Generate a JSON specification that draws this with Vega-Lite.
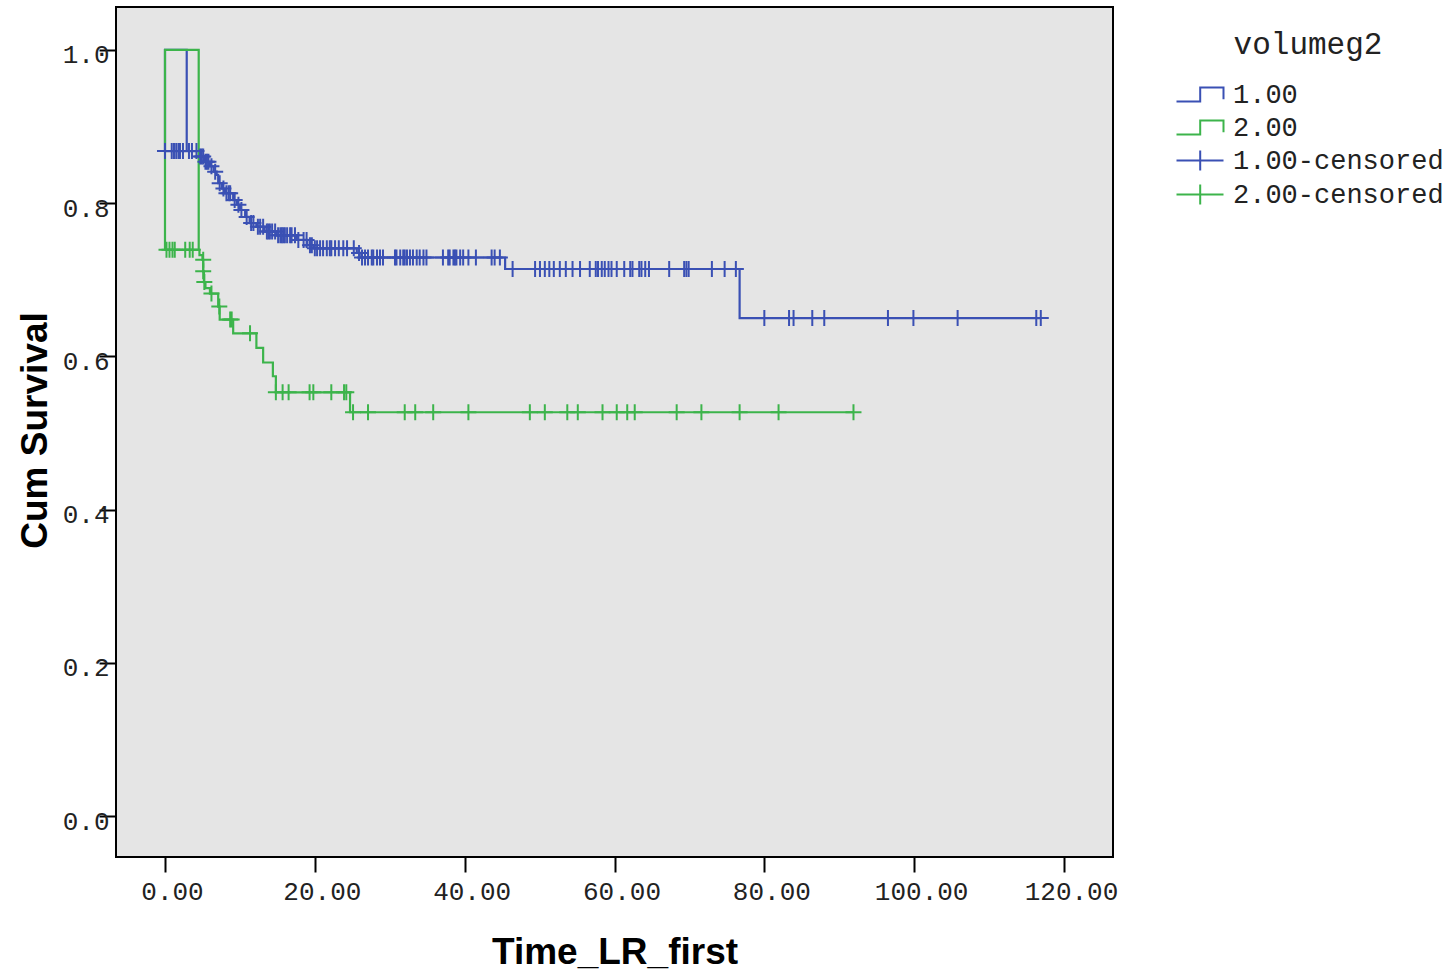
{
  "$schema": "https://vega.github.io/schema/vega-lite/v6.json",
  "width": 997,
  "height": 850,
  "autosize": {"type": "none"},
  "padding": {"left": 116, "top": 7, "right": 337, "bottom": 114},
  "background": "white",
  "config": {
    "view": {"stroke": "black", "strokeWidth": 2, "fill": "#e5e5e5"}
  },
  "datasets": {
    "curves": [
      {"group": "1.00", "seg": "spike", "ord": 1, "t": 0, "s": 0.868},
      {"group": "1.00", "seg": "spike", "ord": 2, "t": 0, "s": 1.0},
      {"group": "1.00", "seg": "spike", "ord": 3, "t": 2.9, "s": 1.0},
      {"group": "1.00", "seg": "spike", "ord": 4, "t": 2.9, "s": 0.868},
      {"group": "1.00", "seg": "main", "ord": 1, "t": 0, "s": 0.868},
      {"group": "1.00", "seg": "main", "ord": 2, "t": 4.6, "s": 0.861},
      {"group": "1.00", "seg": "main", "ord": 3, "t": 5.3, "s": 0.854},
      {"group": "1.00", "seg": "main", "ord": 4, "t": 6.0, "s": 0.848},
      {"group": "1.00", "seg": "main", "ord": 5, "t": 6.5, "s": 0.841},
      {"group": "1.00", "seg": "main", "ord": 6, "t": 6.9, "s": 0.837},
      {"group": "1.00", "seg": "main", "ord": 7, "t": 7.1, "s": 0.826},
      {"group": "1.00", "seg": "main", "ord": 8, "t": 7.6, "s": 0.819},
      {"group": "1.00", "seg": "main", "ord": 9, "t": 8.0, "s": 0.813},
      {"group": "1.00", "seg": "main", "ord": 10, "t": 9.1, "s": 0.804},
      {"group": "1.00", "seg": "main", "ord": 11, "t": 9.6, "s": 0.798},
      {"group": "1.00", "seg": "main", "ord": 12, "t": 10.0, "s": 0.791},
      {"group": "1.00", "seg": "main", "ord": 13, "t": 10.7, "s": 0.782},
      {"group": "1.00", "seg": "main", "ord": 14, "t": 11.3, "s": 0.774},
      {"group": "1.00", "seg": "main", "ord": 15, "t": 12.2, "s": 0.769},
      {"group": "1.00", "seg": "main", "ord": 16, "t": 13.3, "s": 0.763},
      {"group": "1.00", "seg": "main", "ord": 17, "t": 14.9, "s": 0.758},
      {"group": "1.00", "seg": "main", "ord": 18, "t": 17.6, "s": 0.752},
      {"group": "1.00", "seg": "main", "ord": 19, "t": 19.0, "s": 0.745},
      {"group": "1.00", "seg": "main", "ord": 20, "t": 19.9, "s": 0.741},
      {"group": "1.00", "seg": "main", "ord": 21, "t": 25.6, "s": 0.735},
      {"group": "1.00", "seg": "main", "ord": 22, "t": 26.2, "s": 0.729},
      {"group": "1.00", "seg": "main", "ord": 23, "t": 45.4, "s": 0.714},
      {"group": "1.00", "seg": "main", "ord": 24, "t": 76.7, "s": 0.650},
      {"group": "1.00", "seg": "main", "ord": 25, "t": 116.9, "s": 0.650},
      {"group": "2.00", "seg": "spike", "ord": 1, "t": 0, "s": 0.739},
      {"group": "2.00", "seg": "spike", "ord": 2, "t": 0, "s": 1.0},
      {"group": "2.00", "seg": "spike", "ord": 3, "t": 4.5, "s": 1.0},
      {"group": "2.00", "seg": "spike", "ord": 4, "t": 4.5, "s": 0.739},
      {"group": "2.00", "seg": "main", "ord": 1, "t": 0, "s": 0.739},
      {"group": "2.00", "seg": "main", "ord": 2, "t": 4.6, "s": 0.732},
      {"group": "2.00", "seg": "main", "ord": 3, "t": 5.0, "s": 0.726},
      {"group": "2.00", "seg": "main", "ord": 4, "t": 5.1, "s": 0.711},
      {"group": "2.00", "seg": "main", "ord": 5, "t": 5.2, "s": 0.697},
      {"group": "2.00", "seg": "main", "ord": 6, "t": 5.4, "s": 0.689},
      {"group": "2.00", "seg": "main", "ord": 7, "t": 6.0, "s": 0.682},
      {"group": "2.00", "seg": "main", "ord": 8, "t": 7.1, "s": 0.665},
      {"group": "2.00", "seg": "main", "ord": 9, "t": 7.3, "s": 0.648},
      {"group": "2.00", "seg": "main", "ord": 10, "t": 9.1, "s": 0.630},
      {"group": "2.00", "seg": "main", "ord": 11, "t": 12.2, "s": 0.611},
      {"group": "2.00", "seg": "main", "ord": 12, "t": 13.1, "s": 0.592},
      {"group": "2.00", "seg": "main", "ord": 13, "t": 14.4, "s": 0.574},
      {"group": "2.00", "seg": "main", "ord": 14, "t": 14.8, "s": 0.553},
      {"group": "2.00", "seg": "main", "ord": 15, "t": 24.7, "s": 0.527},
      {"group": "2.00", "seg": "main", "ord": 16, "t": 91.9, "s": 0.527}
    ],
    "censored": [
      {"group": "1.00-censored", "t": 0.0, "s": 0.868},
      {"group": "1.00-censored", "t": 0.9, "s": 0.868},
      {"group": "1.00-censored", "t": 1.2, "s": 0.868},
      {"group": "1.00-censored", "t": 1.5, "s": 0.868},
      {"group": "1.00-censored", "t": 1.8, "s": 0.868},
      {"group": "1.00-censored", "t": 2.0, "s": 0.868},
      {"group": "1.00-censored", "t": 2.4, "s": 0.868},
      {"group": "1.00-censored", "t": 3.2, "s": 0.868},
      {"group": "1.00-censored", "t": 3.6, "s": 0.868},
      {"group": "1.00-censored", "t": 4.2, "s": 0.868},
      {"group": "1.00-censored", "t": 4.7, "s": 0.861},
      {"group": "1.00-censored", "t": 4.9, "s": 0.861},
      {"group": "1.00-censored", "t": 5.1, "s": 0.861},
      {"group": "1.00-censored", "t": 5.4, "s": 0.854},
      {"group": "1.00-censored", "t": 5.6, "s": 0.854},
      {"group": "1.00-censored", "t": 5.8, "s": 0.854},
      {"group": "1.00-censored", "t": 6.2, "s": 0.848},
      {"group": "1.00-censored", "t": 6.7, "s": 0.841},
      {"group": "1.00-censored", "t": 7.3, "s": 0.826},
      {"group": "1.00-censored", "t": 7.8, "s": 0.819},
      {"group": "1.00-censored", "t": 8.2, "s": 0.813},
      {"group": "1.00-censored", "t": 8.5, "s": 0.813},
      {"group": "1.00-censored", "t": 8.7, "s": 0.813},
      {"group": "1.00-censored", "t": 9.3, "s": 0.804},
      {"group": "1.00-censored", "t": 9.8, "s": 0.798},
      {"group": "1.00-censored", "t": 10.2, "s": 0.791},
      {"group": "1.00-censored", "t": 10.9, "s": 0.782},
      {"group": "1.00-censored", "t": 11.5, "s": 0.774},
      {"group": "1.00-censored", "t": 11.8, "s": 0.774},
      {"group": "1.00-censored", "t": 12.4, "s": 0.769},
      {"group": "1.00-censored", "t": 12.7, "s": 0.769},
      {"group": "1.00-censored", "t": 13.1, "s": 0.769},
      {"group": "1.00-censored", "t": 13.6, "s": 0.763},
      {"group": "1.00-censored", "t": 13.8, "s": 0.763},
      {"group": "1.00-censored", "t": 14.0, "s": 0.763},
      {"group": "1.00-censored", "t": 14.3, "s": 0.763},
      {"group": "1.00-censored", "t": 14.7, "s": 0.763},
      {"group": "1.00-censored", "t": 15.1, "s": 0.758},
      {"group": "1.00-censored", "t": 15.4, "s": 0.758},
      {"group": "1.00-censored", "t": 15.6, "s": 0.758},
      {"group": "1.00-censored", "t": 15.8, "s": 0.758},
      {"group": "1.00-censored", "t": 16.0, "s": 0.758},
      {"group": "1.00-censored", "t": 16.3, "s": 0.758},
      {"group": "1.00-censored", "t": 16.7, "s": 0.758},
      {"group": "1.00-censored", "t": 16.9, "s": 0.758},
      {"group": "1.00-censored", "t": 17.35, "s": 0.758},
      {"group": "1.00-censored", "t": 17.8, "s": 0.752},
      {"group": "1.00-censored", "t": 18.5, "s": 0.752},
      {"group": "1.00-censored", "t": 18.9, "s": 0.752},
      {"group": "1.00-censored", "t": 19.35, "s": 0.745},
      {"group": "1.00-censored", "t": 19.6, "s": 0.745},
      {"group": "1.00-censored", "t": 20.0, "s": 0.741},
      {"group": "1.00-censored", "t": 20.3, "s": 0.741},
      {"group": "1.00-censored", "t": 20.7, "s": 0.741},
      {"group": "1.00-censored", "t": 21.1, "s": 0.741},
      {"group": "1.00-censored", "t": 21.6, "s": 0.741},
      {"group": "1.00-censored", "t": 22.0, "s": 0.741},
      {"group": "1.00-censored", "t": 22.2, "s": 0.741},
      {"group": "1.00-censored", "t": 22.7, "s": 0.741},
      {"group": "1.00-censored", "t": 23.2, "s": 0.741},
      {"group": "1.00-censored", "t": 23.8, "s": 0.741},
      {"group": "1.00-censored", "t": 24.3, "s": 0.741},
      {"group": "1.00-censored", "t": 25.2, "s": 0.741},
      {"group": "1.00-censored", "t": 25.9, "s": 0.735},
      {"group": "1.00-censored", "t": 26.3, "s": 0.729},
      {"group": "1.00-censored", "t": 26.7, "s": 0.729},
      {"group": "1.00-censored", "t": 27.1, "s": 0.729},
      {"group": "1.00-censored", "t": 27.6, "s": 0.729},
      {"group": "1.00-censored", "t": 27.8, "s": 0.729},
      {"group": "1.00-censored", "t": 28.3, "s": 0.729},
      {"group": "1.00-censored", "t": 28.7, "s": 0.729},
      {"group": "1.00-censored", "t": 29.1, "s": 0.729},
      {"group": "1.00-censored", "t": 30.7, "s": 0.729},
      {"group": "1.00-censored", "t": 30.9, "s": 0.729},
      {"group": "1.00-censored", "t": 31.4, "s": 0.729},
      {"group": "1.00-censored", "t": 31.8, "s": 0.729},
      {"group": "1.00-censored", "t": 32.0, "s": 0.729},
      {"group": "1.00-censored", "t": 32.3, "s": 0.729},
      {"group": "1.00-censored", "t": 32.7, "s": 0.729},
      {"group": "1.00-censored", "t": 33.1, "s": 0.729},
      {"group": "1.00-censored", "t": 33.6, "s": 0.729},
      {"group": "1.00-censored", "t": 34.0, "s": 0.729},
      {"group": "1.00-censored", "t": 34.5, "s": 0.729},
      {"group": "1.00-censored", "t": 34.9, "s": 0.729},
      {"group": "1.00-censored", "t": 37.1, "s": 0.729},
      {"group": "1.00-censored", "t": 37.8, "s": 0.729},
      {"group": "1.00-censored", "t": 38.0, "s": 0.729},
      {"group": "1.00-censored", "t": 38.5, "s": 0.729},
      {"group": "1.00-censored", "t": 38.7, "s": 0.729},
      {"group": "1.00-censored", "t": 38.9, "s": 0.729},
      {"group": "1.00-censored", "t": 39.4, "s": 0.729},
      {"group": "1.00-censored", "t": 39.8, "s": 0.729},
      {"group": "1.00-censored", "t": 40.5, "s": 0.729},
      {"group": "1.00-censored", "t": 41.5, "s": 0.729},
      {"group": "1.00-censored", "t": 43.6, "s": 0.729},
      {"group": "1.00-censored", "t": 44.0, "s": 0.729},
      {"group": "1.00-censored", "t": 44.7, "s": 0.729},
      {"group": "1.00-censored", "t": 46.4, "s": 0.714},
      {"group": "1.00-censored", "t": 49.4, "s": 0.714},
      {"group": "1.00-censored", "t": 50.05, "s": 0.714},
      {"group": "1.00-censored", "t": 50.7, "s": 0.714},
      {"group": "1.00-censored", "t": 51.3, "s": 0.714},
      {"group": "1.00-censored", "t": 51.9, "s": 0.714},
      {"group": "1.00-censored", "t": 52.7, "s": 0.714},
      {"group": "1.00-censored", "t": 53.5, "s": 0.714},
      {"group": "1.00-censored", "t": 54.4, "s": 0.714},
      {"group": "1.00-censored", "t": 55.4, "s": 0.714},
      {"group": "1.00-censored", "t": 56.7, "s": 0.714},
      {"group": "1.00-censored", "t": 57.5, "s": 0.714},
      {"group": "1.00-censored", "t": 57.8, "s": 0.714},
      {"group": "1.00-censored", "t": 58.3, "s": 0.714},
      {"group": "1.00-censored", "t": 58.7, "s": 0.714},
      {"group": "1.00-censored", "t": 59.2, "s": 0.714},
      {"group": "1.00-censored", "t": 59.6, "s": 0.714},
      {"group": "1.00-censored", "t": 60.3, "s": 0.714},
      {"group": "1.00-censored", "t": 61.3, "s": 0.714},
      {"group": "1.00-censored", "t": 62.1, "s": 0.714},
      {"group": "1.00-censored", "t": 62.4, "s": 0.714},
      {"group": "1.00-censored", "t": 63.3, "s": 0.714},
      {"group": "1.00-censored", "t": 63.6, "s": 0.714},
      {"group": "1.00-censored", "t": 64.1, "s": 0.714},
      {"group": "1.00-censored", "t": 64.6, "s": 0.714},
      {"group": "1.00-censored", "t": 67.3, "s": 0.714},
      {"group": "1.00-censored", "t": 69.3, "s": 0.714},
      {"group": "1.00-censored", "t": 69.6, "s": 0.714},
      {"group": "1.00-censored", "t": 69.9, "s": 0.714},
      {"group": "1.00-censored", "t": 73.0, "s": 0.714},
      {"group": "1.00-censored", "t": 74.7, "s": 0.714},
      {"group": "1.00-censored", "t": 76.2, "s": 0.714},
      {"group": "1.00-censored", "t": 80.0, "s": 0.650},
      {"group": "1.00-censored", "t": 83.3, "s": 0.650},
      {"group": "1.00-censored", "t": 83.9, "s": 0.650},
      {"group": "1.00-censored", "t": 86.4, "s": 0.650},
      {"group": "1.00-censored", "t": 88.0, "s": 0.650},
      {"group": "1.00-censored", "t": 96.5, "s": 0.650},
      {"group": "1.00-censored", "t": 99.9, "s": 0.650},
      {"group": "1.00-censored", "t": 105.8, "s": 0.650},
      {"group": "1.00-censored", "t": 116.3, "s": 0.650},
      {"group": "1.00-censored", "t": 116.9, "s": 0.650},
      {"group": "2.00-censored", "t": 0.2, "s": 0.739},
      {"group": "2.00-censored", "t": 0.6, "s": 0.739},
      {"group": "2.00-censored", "t": 1.0, "s": 0.739},
      {"group": "2.00-censored", "t": 1.3, "s": 0.739},
      {"group": "2.00-censored", "t": 2.7, "s": 0.739},
      {"group": "2.00-censored", "t": 3.3, "s": 0.739},
      {"group": "2.00-censored", "t": 3.7, "s": 0.739},
      {"group": "2.00-censored", "t": 5.1, "s": 0.726},
      {"group": "2.00-censored", "t": 5.1, "s": 0.711},
      {"group": "2.00-censored", "t": 5.25, "s": 0.697},
      {"group": "2.00-censored", "t": 6.2, "s": 0.682},
      {"group": "2.00-censored", "t": 7.25, "s": 0.665},
      {"group": "2.00-censored", "t": 8.7, "s": 0.648},
      {"group": "2.00-censored", "t": 8.9, "s": 0.648},
      {"group": "2.00-censored", "t": 11.35, "s": 0.630},
      {"group": "2.00-censored", "t": 14.8, "s": 0.553},
      {"group": "2.00-censored", "t": 15.7, "s": 0.553},
      {"group": "2.00-censored", "t": 16.5, "s": 0.553},
      {"group": "2.00-censored", "t": 19.3, "s": 0.553},
      {"group": "2.00-censored", "t": 19.8, "s": 0.553},
      {"group": "2.00-censored", "t": 22.2, "s": 0.553},
      {"group": "2.00-censored", "t": 23.9, "s": 0.553},
      {"group": "2.00-censored", "t": 24.2, "s": 0.553},
      {"group": "2.00-censored", "t": 25.1, "s": 0.527},
      {"group": "2.00-censored", "t": 27.1, "s": 0.527},
      {"group": "2.00-censored", "t": 32.0, "s": 0.527},
      {"group": "2.00-censored", "t": 33.4, "s": 0.527},
      {"group": "2.00-censored", "t": 35.8, "s": 0.527},
      {"group": "2.00-censored", "t": 40.5, "s": 0.527},
      {"group": "2.00-censored", "t": 48.7, "s": 0.527},
      {"group": "2.00-censored", "t": 50.7, "s": 0.527},
      {"group": "2.00-censored", "t": 53.7, "s": 0.527},
      {"group": "2.00-censored", "t": 55.1, "s": 0.527},
      {"group": "2.00-censored", "t": 58.4, "s": 0.527},
      {"group": "2.00-censored", "t": 60.3, "s": 0.527},
      {"group": "2.00-censored", "t": 61.7, "s": 0.527},
      {"group": "2.00-censored", "t": 62.7, "s": 0.527},
      {"group": "2.00-censored", "t": 68.3, "s": 0.527},
      {"group": "2.00-censored", "t": 71.6, "s": 0.527},
      {"group": "2.00-censored", "t": 76.7, "s": 0.527},
      {"group": "2.00-censored", "t": 81.9, "s": 0.527},
      {"group": "2.00-censored", "t": 91.9, "s": 0.527}
    ]
  },
  "encoding": {
    "x": {
      "field": "t", "type": "quantitative",
      "scale": {"domain": [-6.54, 126.54], "nice": false, "zero": false},
      "axis": {
        "title": "Time_LR_first",
        "values": [0, 20, 40, 60, 80, 100, 120],
        "format": ".2f",
        "grid": false, "domain": false,
        "tickSize": 15, "tickWidth": 2, "tickColor": "black",
        "labelFont": "Liberation Mono", "labelFontSize": 26, "labelColor": "#222",
        "labelPadding": 6, "labelOffset": 7, "labelFlush": false, "labelOverlap": false,
        "titleFont": "Liberation Sans", "titleFontSize": 37, "titleFontWeight": "bold", "titleColor": "black",
        "titleBaseline": "alphabetic", "titleY": 106
      }
    },
    "y": {
      "field": "s", "type": "quantitative",
      "scale": {"domain": [-0.0535, 1.056], "nice": false, "zero": false},
      "axis": {
        "title": "Cum Survival",
        "values": [0, 0.2, 0.4, 0.6, 0.8, 1.0],
        "format": ".1f",
        "grid": false, "domain": false,
        "tickSize": 17, "tickWidth": 2, "tickColor": "black",
        "labelFont": "Liberation Mono", "labelFontSize": 26, "labelColor": "#222",
        "labelPadding": -10, "labelOffset": 5, "labelFlush": false, "labelOverlap": false,
        "titleFont": "Liberation Sans", "titleFontSize": 37, "titleFontWeight": "bold", "titleColor": "black",
        "titleBaseline": "alphabetic", "titleX": -70, "titleY": 423, "titleAngle": 270
      }
    },
    "color": {
      "field": "group", "type": "nominal",
      "scale": {
        "domain": ["1.00", "2.00", "1.00-censored", "2.00-censored"],
        "range": ["#3a50b4", "#3cb44b", "#3a50b4", "#3cb44b"]
      },
      "legend": {
        "title": "volumeg2",
        "orient": "none", "legendX": 1057, "legendY": 23,
        "padding": 0,
        "titleFont": "Liberation Mono", "titleFontSize": 31, "titleFontWeight": "normal", "titleColor": "#222",
        "titleAnchor": "middle", "titlePadding": 20,
        "labelFont": "Liberation Mono", "labelFontSize": 27, "labelColor": "#222", "labelLimit": 0,
        "labelOffset": 33, "rowPadding": 5,
        "symbolSize": 400, "symbolStrokeWidth": 2,
        "encode": {
          "symbols": {
            "update": {
              "shape": {"signal": "indexof(datum.value, 'censored') >= 0 ? 'M-1,0H3.7M1.37,-1V1' : 'M-1,0.7H1.37V-0.7H3.7V0.47'"},
              "stroke": {"scale": "color", "field": "value"},
              "fill": {"value": "transparent"},
              "strokeWidth": {"value": 2},
              "opacity": {"value": 1}
            }
          }
        }
      }
    }
  },
  "layer": [
    {
      "data": {"name": "curves"},
      "mark": {"type": "line", "interpolate": "step-after", "strokeWidth": 2.2},
      "encoding": {
        "detail": {"field": "seg", "type": "nominal"},
        "order": {"field": "ord", "type": "quantitative"}
      }
    },
    {
      "data": {"name": "censored"},
      "mark": {"type": "point", "shape": "M-1,0H1M0,-1V1", "filled": false, "size": 256, "strokeWidth": 2, "opacity": 1}
    }
  ]
}
